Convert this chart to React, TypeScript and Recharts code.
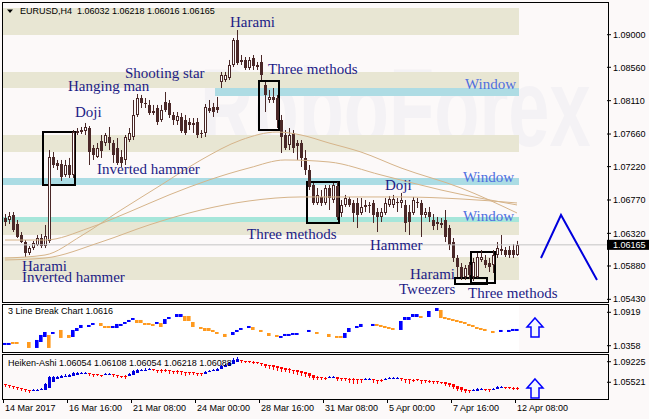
import React from 'react';
import { ComposedChart, Bar, Line, XAxis, YAxis, ReferenceArea, ReferenceLine, ReferenceDot } from 'recharts';

// ---------- main EURUSD H4 candles ----------
const candleOpen = [
  1.06527, 1.06500, 1.06568, 1.06446, 1.06298, 1.06203, 1.06055, 1.06122, 1.06163, 1.06257,
  1.06149, 1.06217, 1.07350, 1.07270, 1.07256, 1.07108, 1.07242, 1.07108, 1.07674, 1.07687,
  1.07701, 1.07741, 1.07471, 1.07350, 1.07566, 1.07539, 1.07620, 1.07539, 1.07471, 1.07350,
  1.07310, 1.07579, 1.07620, 1.07917, 1.08146, 1.08079, 1.08052, 1.07944, 1.08011, 1.07850,
  1.08092, 1.08079, 1.07917, 1.07836, 1.07890, 1.07850, 1.07823, 1.07796, 1.07823, 1.07674,
  1.07674, 1.08011, 1.08025, 1.08025, 1.08362, 1.08389, 1.08416, 1.08591, 1.08928, 1.08659,
  1.08659, 1.08551, 1.08686, 1.08591, 1.08632, 1.08322, 1.08119, 1.08160, 1.08146, 1.07850,
  1.07647, 1.07512, 1.07674, 1.07539, 1.07539, 1.07337, 1.07175, 1.06972, 1.06730, 1.06811,
  1.06730, 1.06932, 1.06770, 1.06959, 1.06595, 1.06703, 1.06784, 1.06730, 1.06730, 1.06595,
  1.06703, 1.06703, 1.06730, 1.06608, 1.06541, 1.06595, 1.06703, 1.06703, 1.06743, 1.06730,
  1.06703, 1.06608, 1.06595, 1.06743, 1.06730, 1.06568, 1.06608, 1.06500, 1.06473, 1.06460,
  1.06500, 1.06392, 1.06203, 1.05988, 1.05866, 1.05731, 1.05893, 1.05731, 1.05731, 1.05961,
  1.05961, 1.05920, 1.05893, 1.06028, 1.06109, 1.06095, 1.06095, 1.06095, 1.06032,
];
const candleHigh = [
  1.06581, 1.06608, 1.06608, 1.06500, 1.06338, 1.06230, 1.06149, 1.06217, 1.06298, 1.06311,
  1.06433, 1.07444, 1.07417, 1.07310, 1.07310, 1.07310, 1.07337, 1.07714, 1.07741, 1.07755,
  1.07809, 1.07768, 1.07512, 1.07539, 1.07647, 1.07674, 1.07755, 1.07579, 1.07606, 1.07444,
  1.07647, 1.07741, 1.08119, 1.08200, 1.08187, 1.08146, 1.08119, 1.08052, 1.08052, 1.08052,
  1.08227, 1.08119, 1.07957, 1.07957, 1.07944, 1.07917, 1.07876, 1.07876, 1.07876, 1.07714,
  1.08065, 1.08119, 1.08079, 1.08160, 1.08497, 1.08497, 1.08659, 1.08955, 1.09063, 1.08726,
  1.08699, 1.08699, 1.08726, 1.08632, 1.08726, 1.08362, 1.08254, 1.08281, 1.08187, 1.07917,
  1.07714, 1.07741, 1.07714, 1.07579, 1.07579, 1.07444, 1.07242, 1.06999, 1.06932, 1.06905,
  1.06972, 1.06972, 1.06999, 1.07013, 1.06770, 1.06838, 1.06811, 1.06770, 1.06797, 1.06797,
  1.06770, 1.06743, 1.06770, 1.06662, 1.06662, 1.06797, 1.06824, 1.06838, 1.06797, 1.06865,
  1.06770, 1.06703, 1.06811, 1.06797, 1.06770, 1.06662, 1.06676, 1.06581, 1.06541, 1.06527,
  1.06635, 1.06433, 1.06257, 1.06028, 1.05920, 1.05893, 1.05934, 1.05988, 1.06055, 1.06095,
  1.06028, 1.05988, 1.06095, 1.06203, 1.06298, 1.06136, 1.06149, 1.06176, 1.06218,
];
const candleLow = [
  1.06419, 1.06446, 1.06338, 1.06257, 1.06190, 1.06001, 1.06028, 1.06095, 1.06149, 1.06122,
  1.06122, 1.06190, 1.07202, 1.07175, 1.07027, 1.07081, 1.07067, 1.07067, 1.07647, 1.07660,
  1.07647, 1.07242, 1.07310, 1.07337, 1.07337, 1.07498, 1.07444, 1.07270, 1.07242, 1.07215,
  1.07242, 1.07552, 1.07579, 1.07890, 1.08011, 1.08011, 1.07917, 1.07917, 1.07782, 1.07823,
  1.07957, 1.07876, 1.07782, 1.07782, 1.07674, 1.07647, 1.07714, 1.07674, 1.07606, 1.07606,
  1.07620, 1.07944, 1.07890, 1.07944, 1.08281, 1.08362, 1.08389, 1.08564, 1.08591, 1.08591,
  1.08524, 1.08524, 1.08524, 1.08524, 1.08389, 1.07957, 1.08079, 1.08079, 1.07741, 1.07404,
  1.07444, 1.07444, 1.07404, 1.07310, 1.07215, 1.07108, 1.06905, 1.06703, 1.06703, 1.06689,
  1.06703, 1.06635, 1.06730, 1.06500, 1.06541, 1.06676, 1.06676, 1.06473, 1.06392, 1.06568,
  1.06608, 1.06595, 1.06460, 1.06338, 1.06473, 1.06568, 1.06676, 1.06662, 1.06608, 1.06662,
  1.06338, 1.06298, 1.06568, 1.06662, 1.06271, 1.06527, 1.06473, 1.06365, 1.06365, 1.06392,
  1.06203, 1.06095, 1.05934, 1.05731, 1.05691, 1.05691, 1.05704, 1.05677, 1.05718, 1.05934,
  1.05853, 1.05799, 1.05785, 1.05988, 1.06028, 1.06001, 1.05988, 1.05988, 1.06016,
];
const candleClose = [
  1.06473, 1.06554, 1.06365, 1.06271, 1.06203, 1.06055, 1.06122, 1.06190, 1.06257, 1.06149,
  1.06284, 1.07350, 1.07242, 1.07229, 1.07081, 1.07242, 1.07108, 1.07687, 1.07701, 1.07714,
  1.07755, 1.07417, 1.07377, 1.07471, 1.07431, 1.07647, 1.07539, 1.07377, 1.07270, 1.07270,
  1.07620, 1.07674, 1.07917, 1.08146, 1.08079, 1.08065, 1.07944, 1.07971, 1.07823, 1.07984,
  1.07984, 1.07917, 1.07850, 1.07903, 1.07701, 1.07674, 1.07782, 1.07809, 1.07647, 1.07660,
  1.08025, 1.07971, 1.07957, 1.07984, 1.08457, 1.08457, 1.08591, 1.08928, 1.08618, 1.08632,
  1.08551, 1.08659, 1.08578, 1.08564, 1.08457, 1.08187, 1.08160, 1.08119, 1.07850, 1.07620,
  1.07471, 1.07647, 1.07471, 1.07498, 1.07337, 1.07175, 1.06946, 1.06730, 1.06838, 1.06730,
  1.06932, 1.06797, 1.06972, 1.06541, 1.06703, 1.06797, 1.06703, 1.06595, 1.06568, 1.06676,
  1.06676, 1.06689, 1.06568, 1.06541, 1.06608, 1.06730, 1.06784, 1.06784, 1.06730, 1.06770,
  1.06460, 1.06473, 1.06770, 1.06730, 1.06568, 1.06608, 1.06541, 1.06419, 1.06446, 1.06433,
  1.06271, 1.06163, 1.05988, 1.05866, 1.05731, 1.05853, 1.05758, 1.05934, 1.06001, 1.06001,
  1.05893, 1.05866, 1.06028, 1.06122, 1.06082, 1.06028, 1.06028, 1.06028, 1.06165,
];

// moving averages (read at sample bars)
const ma1Index = [0, 10, 19, 29, 39, 49, 59, 68, 74, 81, 89, 99, 114, 128];
const ma1Value = [1.05987, 1.06028, 1.06284, 1.06635, 1.06972, 1.07310, 1.07579, 1.07687, 1.07647, 1.07539, 1.07417, 1.07202, 1.06932, 1.06595];
const ma2Index = [0, 10, 21, 31, 41, 51, 61, 70, 81, 94, 109, 128];
const ma2Value = [1.06230, 1.06230, 1.06392, 1.06608, 1.06838, 1.07040, 1.07202, 1.07310, 1.07283, 1.07108, 1.06905, 1.06703];
const ma3Index = [0, 10, 24, 36, 49, 61, 74, 86, 99, 114, 128];
const ma3Value = [1.05961, 1.05987, 1.06203, 1.06433, 1.06635, 1.06757, 1.06811, 1.06811, 1.06811, 1.06784, 1.06730];

// forecast zig-zag
const forecastIndex = [134, 139, 148];
const forecastValue = [1.05987, 1.06568, 1.05691];

// support / resistance zones
const zoneTop = [1.09360, 1.08497, 1.07647, 1.06473, 1.06001];
const zoneBottom = [1.08996, 1.08281, 1.07417, 1.06298, 1.05691];
const windowTop = [1.08281, 1.07067, 1.06541];
const windowBottom = [1.08173, 1.06972, 1.06473];
const windowStart = [53, 0, 0];
const windowColor = ['#AEDCE4', '#ABDCE4', '#A6E6DA'];

// pattern boxes
const boxStart = [10, 64, 76, 113, 117];
const boxEnd = [17, 68, 83, 120, 122];
const boxTop = [1.07687, 1.08375, 1.07013, 1.05718, 1.06068];
const boxBottom = [1.06972, 1.07714, 1.06460, 1.05637, 1.05650];

const mainTicks = [1.09, 1.0856, 1.0811, 1.0766, 1.0722, 1.0677, 1.0632, 1.0588, 1.0543];
const currentPrice = 1.06165;

// ---------- 3 Line Break ----------
const lbIndex = [
  0, 1, 2, 3, 6, 8, 9, 10, 11, 12,
  14, 16, 17, 18, 19, 21, 22, 24, 25, 26,
  27, 28, 29, 30, 31, 32, 33, 34, 35, 36,
  37, 38, 39, 40, 41, 43, 44, 45, 46, 47,
  49, 50, 51, 52, 53, 55, 57, 58, 59, 61,
  62, 64, 66, 68, 69, 70, 71, 72, 73, 76,
  78, 81, 83, 84, 85, 86, 88, 89, 92, 93,
  94, 95, 96, 97, 99, 100, 101, 102, 103, 104,
  106, 108, 109, 110, 111, 112, 113, 114, 115, 116,
  117, 118, 119, 120, 122, 124, 126, 127, 128,
];
const lbTop = [
  1.0404, 1.0404, 1.0420, 1.0420, 1.0420, 1.0454, 1.0538, 1.0588, 1.0538, 1.0588,
  1.0622, 1.0538, 1.0622, 1.0655, 1.0706, 1.0706, 1.0739, 1.0739, 1.0689, 1.0689,
  1.0689, 1.0723, 1.0723, 1.0756, 1.0790, 1.0823, 1.0790, 1.0790, 1.0739, 1.0739,
  1.0723, 1.0756, 1.0739, 1.0806, 1.0840, 1.0890, 1.0890, 1.0857, 1.0857, 1.0756,
  1.0672, 1.0655, 1.0655, 1.0622, 1.0588, 1.0555, 1.0588, 1.0622, 1.0655, 1.0689,
  1.0672, 1.0622, 1.0571, 1.0538, 1.0521, 1.0555, 1.0555, 1.0571, 1.0571, 1.0622,
  1.0588, 1.0555, 1.0521, 1.0521, 1.0571, 1.0655, 1.0689, 1.0723, 1.0723, 1.0723,
  1.0706, 1.0689, 1.0672, 1.0655, 1.0773, 1.0840, 1.0840, 1.0890, 1.0890, 1.0857,
  1.0941, 1.0991, 1.0958, 1.0840, 1.0823, 1.0806, 1.0790, 1.0773, 1.0756, 1.0723,
  1.0706, 1.0672, 1.0655, 1.0639, 1.0605, 1.0622, 1.0622, 1.0639, 1.0639,
];
const lbBottom = [
  1.0370, 1.0370, 1.0387, 1.0387, 1.0320, 1.0320, 1.0420, 1.0504, 1.0320, 1.0555,
  1.0488, 1.0488, 1.0504, 1.0605, 1.0655, 1.0672, 1.0706, 1.0689, 1.0655, 1.0655,
  1.0655, 1.0655, 1.0689, 1.0723, 1.0756, 1.0790, 1.0739, 1.0739, 1.0706, 1.0706,
  1.0689, 1.0723, 1.0672, 1.0723, 1.0806, 1.0840, 1.0840, 1.0773, 1.0773, 1.0672,
  1.0639, 1.0605, 1.0605, 1.0588, 1.0555, 1.0504, 1.0538, 1.0588, 1.0622, 1.0655,
  1.0622, 1.0588, 1.0521, 1.0504, 1.0488, 1.0521, 1.0521, 1.0538, 1.0538, 1.0588,
  1.0555, 1.0504, 1.0488, 1.0488, 1.0488, 1.0588, 1.0655, 1.0672, 1.0689, 1.0689,
  1.0672, 1.0655, 1.0639, 1.0622, 1.0622, 1.0790, 1.0790, 1.0840, 1.0840, 1.0823,
  1.0840, 1.0941, 1.0823, 1.0806, 1.0790, 1.0773, 1.0756, 1.0739, 1.0723, 1.0689,
  1.0672, 1.0639, 1.0622, 1.0605, 1.0571, 1.0588, 1.0588, 1.0605, 1.0605,
];
const lbUp = [
  1, 1, 0, 0, 0, 1, 1, 1, 0, 1,
  0, 0, 1, 1, 1, 1, 1, 0, 0, 0,
  1, 1, 1, 1, 1, 1, 0, 0, 0, 0,
  0, 1, 0, 1, 1, 1, 1, 0, 0, 0,
  0, 0, 0, 0, 0, 0, 1, 1, 1, 1,
  0, 0, 0, 0, 1, 1, 1, 1, 1, 1,
  0, 0, 0, 0, 1, 1, 1, 1, 1, 0,
  0, 0, 0, 0, 1, 1, 1, 1, 1, 0,
  1, 1, 0, 0, 0, 0, 0, 0, 0, 0,
  0, 0, 0, 0, 0, 1, 1, 1, 1,
];
const lbTicks = [1.0919, 1.0358];
const lbArrowValue = 1.06636;

// ---------- Heiken-Ashi ----------
const haOpen = [
  1.0521, 1.0503, 1.0485, 1.0467, 1.0449, 1.0431, 1.0413, 1.0395, 1.0395, 1.0413,
  1.0413, 1.0449, 1.0557, 1.0611, 1.0629, 1.0647, 1.0647, 1.0665, 1.0683, 1.0701,
  1.0701, 1.0719, 1.0701, 1.0701, 1.0683, 1.0683, 1.0683, 1.0701, 1.0683, 1.0665,
  1.0665, 1.0665, 1.0683, 1.0719, 1.0755, 1.0755, 1.0773, 1.0791, 1.0773, 1.0773,
  1.0773, 1.0773, 1.0755, 1.0755, 1.0755, 1.0737, 1.0737, 1.0737, 1.0719, 1.0719,
  1.0701, 1.0737, 1.0755, 1.0755, 1.0791, 1.0827, 1.0845, 1.0881, 1.0917, 1.0953,
  1.0935, 1.0935, 1.0917, 1.0917, 1.0899, 1.0881, 1.0863, 1.0863, 1.0845, 1.0827,
  1.0809, 1.0791, 1.0773, 1.0773, 1.0755, 1.0737, 1.0719, 1.0683, 1.0647, 1.0647,
  1.0629, 1.0629, 1.0629, 1.0647, 1.0629, 1.0629, 1.0611, 1.0611, 1.0611, 1.0611,
  1.0593, 1.0593, 1.0611, 1.0593, 1.0593, 1.0593, 1.0611, 1.0611, 1.0611, 1.0629,
  1.0611, 1.0611, 1.0593, 1.0611, 1.0593, 1.0593, 1.0575, 1.0575, 1.0575, 1.0557,
  1.0557, 1.0539, 1.0521, 1.0485, 1.0467, 1.0431, 1.0413, 1.0395, 1.0395, 1.0413,
  1.0431, 1.0431, 1.0413, 1.0431, 1.0449, 1.0467, 1.0467, 1.0449, 1.0449,
];
const haClose = [
  1.0503, 1.0485, 1.0467, 1.0449, 1.0431, 1.0413, 1.0395, 1.0413, 1.0413, 1.0431,
  1.0521, 1.0647, 1.0647, 1.0647, 1.0665, 1.0665, 1.0683, 1.0719, 1.0719, 1.0719,
  1.0719, 1.0701, 1.0683, 1.0683, 1.0665, 1.0701, 1.0701, 1.0683, 1.0665, 1.0647,
  1.0647, 1.0701, 1.0755, 1.0773, 1.0773, 1.0773, 1.0791, 1.0773, 1.0755, 1.0755,
  1.0755, 1.0755, 1.0737, 1.0737, 1.0737, 1.0719, 1.0719, 1.0719, 1.0701, 1.0701,
  1.0737, 1.0755, 1.0773, 1.0791, 1.0845, 1.0863, 1.0899, 1.0953, 1.0971, 1.0935,
  1.0917, 1.0917, 1.0899, 1.0899, 1.0881, 1.0845, 1.0845, 1.0827, 1.0809, 1.0791,
  1.0773, 1.0773, 1.0755, 1.0737, 1.0719, 1.0701, 1.0665, 1.0629, 1.0629, 1.0629,
  1.0611, 1.0647, 1.0647, 1.0611, 1.0611, 1.0611, 1.0593, 1.0593, 1.0593, 1.0593,
  1.0611, 1.0611, 1.0593, 1.0575, 1.0575, 1.0611, 1.0629, 1.0629, 1.0629, 1.0611,
  1.0593, 1.0593, 1.0575, 1.0593, 1.0575, 1.0575, 1.0557, 1.0557, 1.0557, 1.0539,
  1.0521, 1.0503, 1.0467, 1.0431, 1.0413, 1.0395, 1.0395, 1.0413, 1.0431, 1.0431,
  1.0413, 1.0413, 1.0431, 1.0467, 1.0467, 1.0449, 1.0449, 1.0431, 1.0431,
];
const haHigh = [
  1.0521, 1.0503, 1.0485, 1.0467, 1.0449, 1.0431, 1.0413, 1.0431, 1.0431, 1.0449,
  1.0539, 1.0665, 1.0665, 1.0665, 1.0683, 1.0701, 1.0701, 1.0737, 1.0737, 1.0737,
  1.0737, 1.0719, 1.0701, 1.0701, 1.0683, 1.0719, 1.0719, 1.0701, 1.0683, 1.0665,
  1.0683, 1.0719, 1.0773, 1.0791, 1.0791, 1.0809, 1.0809, 1.0791, 1.0773, 1.0791,
  1.0791, 1.0773, 1.0755, 1.0773, 1.0755, 1.0737, 1.0737, 1.0737, 1.0719, 1.0719,
  1.0755, 1.0773, 1.0791, 1.0809, 1.0863, 1.0881, 1.0917, 1.0989, 1.1007, 1.0953,
  1.0935, 1.0935, 1.0935, 1.0917, 1.0899, 1.0881, 1.0863, 1.0863, 1.0845, 1.0827,
  1.0809, 1.0809, 1.0773, 1.0773, 1.0755, 1.0737, 1.0719, 1.0683, 1.0665, 1.0647,
  1.0647, 1.0665, 1.0665, 1.0647, 1.0629, 1.0629, 1.0629, 1.0629, 1.0611, 1.0611,
  1.0629, 1.0629, 1.0611, 1.0593, 1.0611, 1.0629, 1.0647, 1.0647, 1.0647, 1.0629,
  1.0611, 1.0611, 1.0611, 1.0611, 1.0593, 1.0593, 1.0593, 1.0575, 1.0575, 1.0557,
  1.0557, 1.0539, 1.0521, 1.0485, 1.0467, 1.0431, 1.0413, 1.0431, 1.0449, 1.0449,
  1.0431, 1.0431, 1.0449, 1.0485, 1.0485, 1.0467, 1.0467, 1.0467, 1.0467,
];
const haLow = [
  1.0467, 1.0449, 1.0431, 1.0413, 1.0395, 1.0377, 1.0359, 1.0395, 1.0395, 1.0413,
  1.0413, 1.0449, 1.0557, 1.0611, 1.0629, 1.0647, 1.0647, 1.0665, 1.0683, 1.0701,
  1.0701, 1.0665, 1.0647, 1.0665, 1.0647, 1.0683, 1.0683, 1.0647, 1.0629, 1.0629,
  1.0611, 1.0665, 1.0683, 1.0719, 1.0755, 1.0755, 1.0773, 1.0755, 1.0719, 1.0719,
  1.0737, 1.0701, 1.0701, 1.0701, 1.0683, 1.0665, 1.0683, 1.0683, 1.0665, 1.0665,
  1.0701, 1.0737, 1.0755, 1.0755, 1.0791, 1.0827, 1.0845, 1.0881, 1.0917, 1.0899,
  1.0899, 1.0899, 1.0881, 1.0881, 1.0845, 1.0809, 1.0791, 1.0773, 1.0755, 1.0737,
  1.0737, 1.0719, 1.0701, 1.0683, 1.0665, 1.0647, 1.0629, 1.0593, 1.0593, 1.0593,
  1.0593, 1.0629, 1.0629, 1.0575, 1.0575, 1.0575, 1.0539, 1.0521, 1.0521, 1.0539,
  1.0593, 1.0593, 1.0539, 1.0521, 1.0557, 1.0593, 1.0611, 1.0611, 1.0611, 1.0575,
  1.0539, 1.0521, 1.0557, 1.0575, 1.0521, 1.0539, 1.0539, 1.0521, 1.0521, 1.0521,
  1.0485, 1.0467, 1.0431, 1.0395, 1.0377, 1.0359, 1.0359, 1.0395, 1.0395, 1.0413,
  1.0395, 1.0377, 1.0413, 1.0431, 1.0449, 1.0431, 1.0431, 1.0413, 1.0413,
];
const haTicks = [1.09225, 1.05521];
const haArrowValue = 1.04401;

// ---------- time axis ----------
const tickIndex = [0, 16, 32, 48, 64, 80, 96, 112, 128];
const tickLabels = ['14 Mar 2017', '16 Mar 16:00', '21 Mar 08:00', '24 Mar 00:00', '28 Mar 16:00', '31 Mar 08:00', '5 Apr 00:00', '7 Apr 16:00', '12 Apr 08:00'];

const headerText = 'EURUSD,H4  1.06032 1.06218 1.06016 1.06165';
const lbTitle = '3 Line Break Chart 1.0616';
const haTitle = 'Heiken-Ashi 1.06054 1.06108 1.06054 1.06218 1.06088';
const watermark = 'RoboForex';

// ---------- tables ----------
const SLOTS = 151;
const slots = Array.from({ length: SLOTS }, (_, i) => i);

const mainData = slots.map((i) => {
  const row: any = { i };
  if (i < candleOpen.length) {
    row.open = candleOpen[i];
    row.high = candleHigh[i];
    row.low = candleLow[i];
    row.close = candleClose[i];
    row.range = [candleLow[i], candleHigh[i]];
  }
  const a = ma1Index.indexOf(i); if (a >= 0) row.ma1 = ma1Value[a];
  const b = ma2Index.indexOf(i); if (b >= 0) row.ma2 = ma2Value[b];
  const c = ma3Index.indexOf(i); if (c >= 0) row.ma3 = ma3Value[c];
  const f = forecastIndex.indexOf(i); if (f >= 0) row.forecast = forecastValue[f];
  return row;
});

const lbData = slots.map((i) => {
  const row: any = { i };
  const k = lbIndex.indexOf(i);
  if (k >= 0) {
    row.lb = [lbBottom[k], lbTop[k]];
    row.up = lbUp[k];
  }
  return row;
});

const haData = slots.map((i) => {
  const row: any = { i };
  if (i < haOpen.length) {
    row.open = haOpen[i];
    row.close = haClose[i];
    row.high = haHigh[i];
    row.low = haLow[i];
    row.ha = [haLow[i], haHigh[i]];
  }
  return row;
});

// ---------- styles ----------
const BG = '#FCF9F9';
const BROWN = '#4A2828';
const ZONE = '#E8E6D3';
const MA = '#D6B48A';
const LABEL = '#1C1C86';
const WINDOW_LABEL = '#4F6FDF';
const SANS = 'Liberation Sans, Arial, sans-serif';
const SERIF = 'Liberation Serif, Times New Roman, serif';

const spanPx = (props: any) => {
  const { x, y, width, height, payload } = props;
  const top = Math.min(y, y + height);
  const bot = Math.max(y, y + height);
  const span = payload.high - payload.low || 1e-9;
  const py = (p: number) => top + ((payload.high - p) / span) * (bot - top);
  const x0 = Math.round(x + width / 2 - 2);
  return { top, bot, py, x0 };
};

const CandleShape = (props: any) => {
  const { payload } = props;
  if (!payload || payload.open === undefined) return null;
  const { top, bot, py, x0 } = spanPx(props);
  const yo = py(payload.open);
  const yc = py(payload.close);
  const bTop = Math.round(Math.min(yo, yc));
  const bBot = Math.max(bTop + 1, Math.round(Math.max(yo, yc)));
  const bull = payload.close > payload.open;
  return (
    <g>
      <line x1={x0 + 2.5} x2={x0 + 2.5} y1={top} y2={bot} stroke={BROWN} strokeWidth={1} />
      {bull ? (
        <rect x={x0 + 1.5} y={bTop + 0.5} width={2} height={Math.max(1, bBot - bTop - 1)} fill="#FFFFFF" stroke={BROWN} strokeWidth={1} />
      ) : (
        <rect x={x0 + 1} y={bTop} width={3} height={bBot - bTop} fill={BROWN} />
      )}
    </g>
  );
};

const HAShape = (props: any) => {
  const { payload } = props;
  if (!payload || payload.open === undefined) return null;
  const { top, bot, py, x0 } = spanPx(props);
  const yo = py(payload.open);
  const yc = py(payload.close);
  const bTop = Math.round(Math.min(yo, yc));
  const bBot = Math.max(bTop + 1, Math.round(Math.max(yo, yc)));
  const col = payload.close > payload.open ? '#0000E0' : '#FF0000';
  return (
    <g>
      <line x1={x0 + 2.5} x2={x0 + 2.5} y1={top} y2={bot} stroke={col} strokeWidth={1} />
      <rect x={x0 + 1} y={bTop} width={3} height={bBot - bTop} fill={col} />
    </g>
  );
};

const LBShape = (props: any) => {
  const { x, y, width, height, payload } = props;
  if (!payload || payload.lb === undefined) return null;
  const top = Math.min(y, y + height);
  const h = Math.max(1, Math.abs(height));
  return <rect x={x} y={top} width={width} height={h} fill={payload.up ? '#0000FF' : '#FF9A1E'} />;
};

const UpArrow = (props: any) => {
  const cx = props.cx + 2;
  const cy = props.cy;
  const d = `M${cx},${cy - 9.5} L${cx + 8},${cy - 0.5} L${cx + 4},${cy - 0.5} L${cx + 4},${cy + 9.5} L${cx - 4},${cy + 9.5} L${cx - 4},${cy - 0.5} L${cx - 8},${cy - 0.5} Z`;
  return <path d={d} fill="#F4F6FF" stroke="#0000FF" strokeWidth={1.5} />;
};

const PriceTag = (props: any) => {
  const vb = props.viewBox || {};
  const x = vb.x + vb.width;
  const y = vb.y;
  return (
    <g>
      <rect x={x} y={y - 5} width={42} height={10} fill="#000" />
      <text x={x + 6} y={y + 3.5} fill="#fff" fontSize={9} fontFamily={SANS}>{currentPrice.toFixed(5)}</text>
    </g>
  );
};

const DateTick = (props: any) => {
  const { x, y, payload } = props;
  const k = tickIndex.indexOf(payload.value);
  const x0 = Math.round(x - 2);
  return (
    <g>
      <line x1={x0 + 0.5} x2={x0 + 0.5} y1={y} y2={y + 4} stroke="#000" />
      <text x={x0 + 2} y={y + 12} fontSize={9} fontFamily={SANS} fill="#000">{tickLabels[k]}</text>
    </g>
  );
};

const axisTick = { fontSize: 9, fontFamily: SANS, fill: '#000' };

const frame = (top: number, height: number): React.CSSProperties => ({
  position: 'absolute', left: 2, top, width: 607, height, border: '1px solid #000', boxSizing: 'border-box', pointerEvents: 'none',
});

export default function App() {
  return (
    <div style={{ position: 'absolute', left: 0, top: 0, width: 649, height: 419, background: BG, overflow: 'hidden' }}>
      <svg style={{ position: 'absolute', left: 0, top: 0 }} width={649} height={419}>
        <g transform="translate(200 146) scale(1 1.5)">
          <text x={0} y={0} fontSize={74} fontFamily={SANS} fontWeight="bold" fill="#F4F2F5">{watermark}</text>
        </g>
      </svg>

      {/* main price panel */}
      <div style={{ position: 'absolute', left: 0, top: 0 }}>
        <ComposedChart width={649} height={304} data={mainData} margin={{ top: 2, right: 0, bottom: 2, left: 3 }}>
          <XAxis dataKey="i" hide />
          <YAxis orientation="right" width={42} type="number" domain={[1.05394, 1.09441]} allowDataOverflow ticks={mainTicks}
            tickFormatter={(v: number) => v.toFixed(5)} tick={axisTick} tickSize={4} tickMargin={2} tickLine={{ stroke: '#000' }} axisLine={false} />
          {zoneTop.map((t, k) => (
            <ReferenceArea key={'z' + k} x1={0} x2={128} y1={zoneBottom[k]} y2={t} fill={ZONE} fillOpacity={1} stroke="none" ifOverflow="visible" />
          ))}
          {windowTop.map((t, k) => (
            <ReferenceArea key={'w' + k} x1={windowStart[k]} x2={128} y1={windowBottom[k]} y2={t} fill={windowColor[k]} fillOpacity={1} stroke="none" ifOverflow="visible" />
          ))}
          <ReferenceLine y={currentPrice} stroke="#C4C4C4" strokeWidth={1} label={PriceTag} />
          <Line dataKey="ma3" type="monotone" stroke={MA} strokeWidth={1} dot={false} connectNulls isAnimationActive={false} />
          <Line dataKey="ma2" type="monotone" stroke={MA} strokeWidth={1} dot={false} connectNulls isAnimationActive={false} />
          <Line dataKey="ma1" type="monotone" stroke={MA} strokeWidth={1} dot={false} connectNulls isAnimationActive={false} />
          <Bar dataKey="range" barSize={4} shape={CandleShape} isAnimationActive={false} />
          {boxTop.map((t, k) => (
            <ReferenceArea key={'b' + k} x1={boxStart[k]} x2={boxEnd[k]} y1={boxBottom[k]} y2={t} fill="none" stroke="#000" strokeWidth={2} ifOverflow="visible" />
          ))}
          <Line dataKey="forecast" type="linear" stroke="#0000DD" strokeWidth={2} dot={false} connectNulls isAnimationActive={false} />
        </ComposedChart>
      </div>

      {/* 3 line break panel */}
      <div style={{ position: 'absolute', left: 0, top: 304 }}>
        <ComposedChart width={649} height={49} data={lbData} margin={{ top: 1, right: 0, bottom: 1, left: 3 }}>
          <XAxis dataKey="i" hide />
          <YAxis orientation="right" width={42} type="number" domain={[1.0252, 1.10416]} allowDataOverflow ticks={lbTicks}
            tickFormatter={(v: number) => v.toFixed(4)} tick={axisTick} tickSize={4} tickMargin={2} tickLine={{ stroke: '#000' }} axisLine={false} />
          <ReferenceArea x1={0} x2={128} fill="#FFFFFF" fillOpacity={1} stroke="none" />
          <Bar dataKey="lb" barSize={4} shape={LBShape} isAnimationActive={false} />
          <ReferenceDot x={132} y={lbArrowValue} shape={UpArrow} ifOverflow="visible" />
        </ComposedChart>
      </div>

      {/* Heiken-Ashi panel */}
      <div style={{ position: 'absolute', left: 0, top: 354 }}>
        <ComposedChart width={649} height={65} data={haData} margin={{ top: 1, right: 0, bottom: 1, left: 3 }}>
          <XAxis dataKey="i" height={19} ticks={tickIndex} interval={0} tick={DateTick} tickSize={0} tickMargin={0} tickLine={false} axisLine={false} />
          <YAxis orientation="right" width={42} type="number" domain={[1.02511, 1.10431]} allowDataOverflow ticks={haTicks}
            tickFormatter={(v: number) => v.toFixed(5)} tick={axisTick} tickSize={4} tickMargin={2} tickLine={{ stroke: '#000' }} axisLine={false} />
          <Bar dataKey="ha" barSize={4} shape={HAShape} isAnimationActive={false} />
          <ReferenceDot x={132} y={haArrowValue} shape={UpArrow} ifOverflow="visible" />
        </ComposedChart>
      </div>

      <div style={frame(2, 301)} />
      <div style={frame(304, 49)} />
      <div style={frame(354, 46)} />

      {/* annotations */}
      <svg style={{ position: 'absolute', left: 0, top: 0, pointerEvents: 'none' }} width={649} height={419}>
        <polygon points="7,9.5 13,9.5 10,13" fill="#000" />
        <text x={20} y={14} fontSize={9} fontFamily={SANS} fill="#000" style={{ whiteSpace: 'pre' }}>{headerText}</text>
        <text x={8} y={314} fontSize={9} fontFamily={SANS} fill="#000">{lbTitle}</text>
        <text x={8} y={366} fontSize={9} fontFamily={SANS} fill="#000">{haTitle}</text>
        <g fontFamily={SERIF} fontSize={15} fill={LABEL}>
          <text x={230} y={27}>Harami</text>
          <text x={268} y={74}>Three methods</text>
          <text x={125} y={78}>Shooting star</text>
          <text x={68} y={91}>Hanging man</text>
          <text x={75} y={117}>Doji</text>
          <text x={97} y={174}>Inverted hammer</text>
          <text x={385} y={190}>Doji</text>
          <text x={247} y={239}>Three methods</text>
          <text x={370} y={250}>Hammer</text>
          <text x={22} y={271}>Harami</text>
          <text x={22} y={282}>Inverted hammer</text>
          <text x={410} y={279}>Harami</text>
          <text x={399} y={294}>Tweezers</text>
          <text x={468} y={298}>Three methods</text>
        </g>
        <g fontFamily={SERIF} fontSize={15} fill={WINDOW_LABEL}>
          <text x={465} y={89}>Window</text>
          <text x={463} y={182}>Window</text>
          <text x={463} y={221}>Window</text>
        </g>
      </svg>
    </div>
  );
}
